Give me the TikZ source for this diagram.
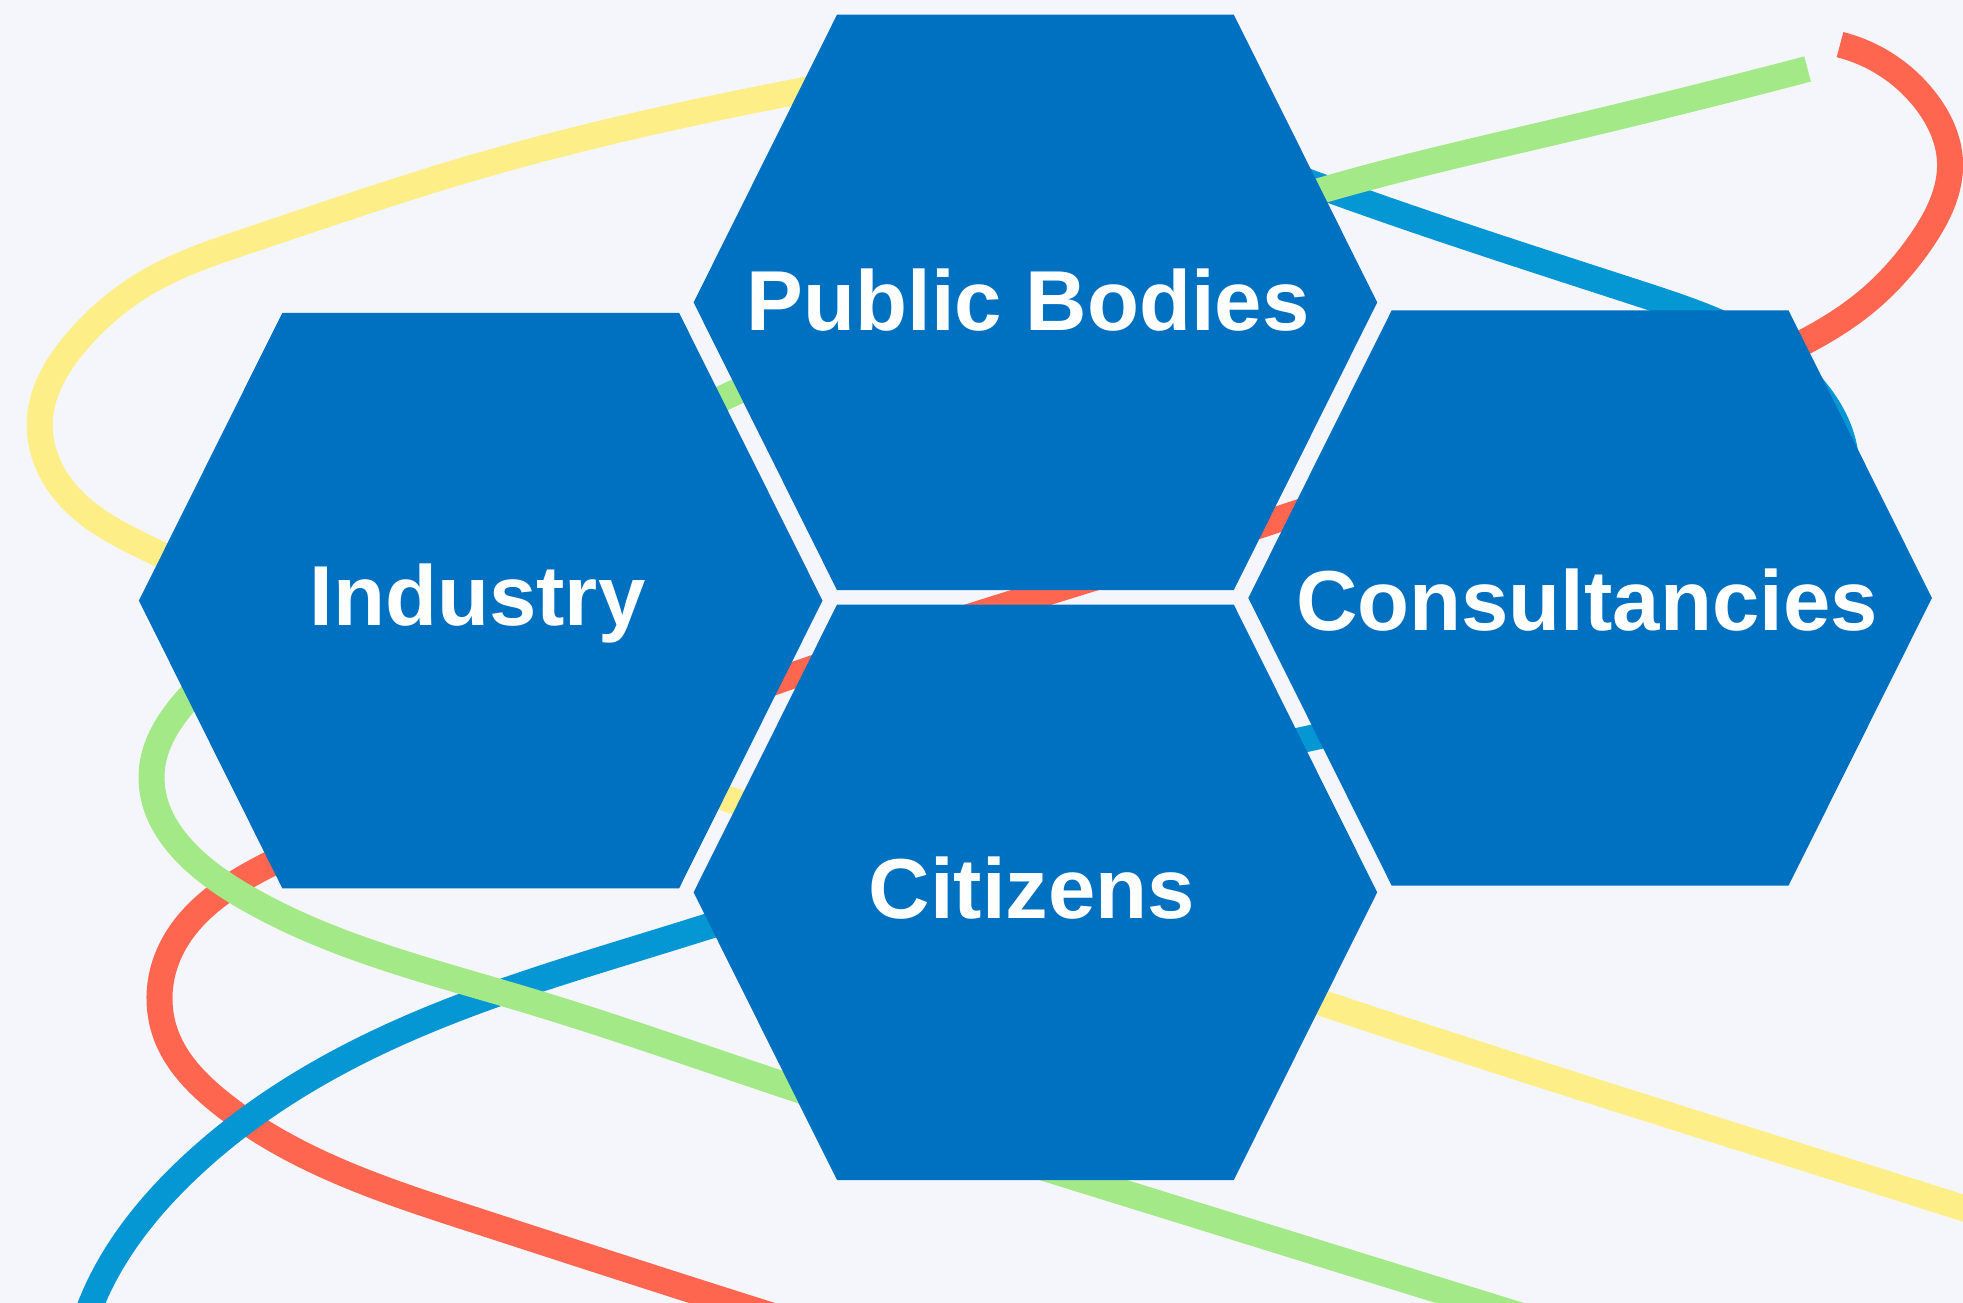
\documentclass[tikz,border=0pt]{standalone}
\usepackage{fontspec}
\setmainfont{Liberation Sans}
\usetikzlibrary{hobby}
\definecolor{bgc}{RGB}{244,246,251}
\definecolor{hexblue}{RGB}{0,112,192}
\definecolor{cyel}{RGB}{253,238,136}
\definecolor{cgrn}{RGB}{163,233,136}
\definecolor{cblu}{RGB}{5,150,212}
\definecolor{cred}{RGB}{255,102,80}
\newcommand\hexlabelfont{\fontsize{24.2pt}{29pt}\selectfont\bfseries}
\newcommand\hexcell[2]{\fill[hexfill,shift={(#1,#2)}] (-198.4,-287.7) -- (198.4,-287.7) -- (341.8,0) -- (198.4,287.7) -- (-198.4,287.7) -- (-341.8,0) -- cycle;}
\tikzset{
  hexfill/.style={fill=hexblue},
  band/.style={line width=0.26cm,use Hobby shortcut},
  hexlabel/.style={text=white,font=\hexlabelfont,anchor=base,inner sep=0pt}
}
\begin{document}
\begin{tikzpicture}[x=0.01cm,y=-0.01cm]
\useasboundingbox (0,0) rectangle (1963,1303);
\fill[bgc] (0,0) rectangle (1963,1303);
\begin{scope}
\clip (0,0) rectangle (1963,1303);
% yellow
\draw[band,cyel] (960,62) .. (797.5,91.5) .. (470.7,168.4) .. (250,240) .. (146,283) .. (78,340) .. (40,418) .. (62,488) .. (159.5,554) .. (430,690) .. (731,800) .. (1322,1003) .. (1963,1208) .. (2100,1252);
% red
\draw[band,cred] (1840,44.6) .. (1925,100) .. (1950,162) .. (1922,240) .. (1866,302) .. (1801,343.7) .. (1540,433) .. (1276,520) .. (794,675) .. (530,770) .. (269,864.5) .. (167,958.6) .. (166,1035) .. (219.7,1102) .. (313.8,1160) .. (470.7,1218.7) .. (732,1303) .. (850,1340);
% blue
\draw[band,cblu] (1150,120) .. (1316.6,185) .. (1642.4,294.6) .. (1818,393.5) .. (1845,452) .. (1830,530) .. (1720,625) .. (1520,695) .. (1309.5,738.3) .. (706,927) .. (366,1048) .. (183,1173.8) .. (91.5,1303) .. (75,1360);
% green
\draw[band,cgrn] (1807.6,69) .. (1565,129.5) .. (1323,190) .. (1030,287) .. (729.5,395) .. (460,540) .. (188,698.6) .. (151.7,772) .. (235,891) .. (523,999) .. (795,1088.6) .. (1083,1180) .. (1480,1303) .. (1600,1340);
\end{scope}
\hexcell{1035.4}{302.4}
\hexcell{480.7}{600.6}
\hexcell{1590.1}{598}
\hexcell{1035.4}{892.3}
\node[hexlabel] (pb) at (1028,330.4) {Public Bodies};
\node[hexlabel] (ind) at (477.5,625.9) {Industry};
\node[hexlabel] (cons) at (1587,630.9) {Consultancies};
\node[hexlabel] (cit) at (1032,918.6) {Citizens};
\end{tikzpicture}
\end{document}
